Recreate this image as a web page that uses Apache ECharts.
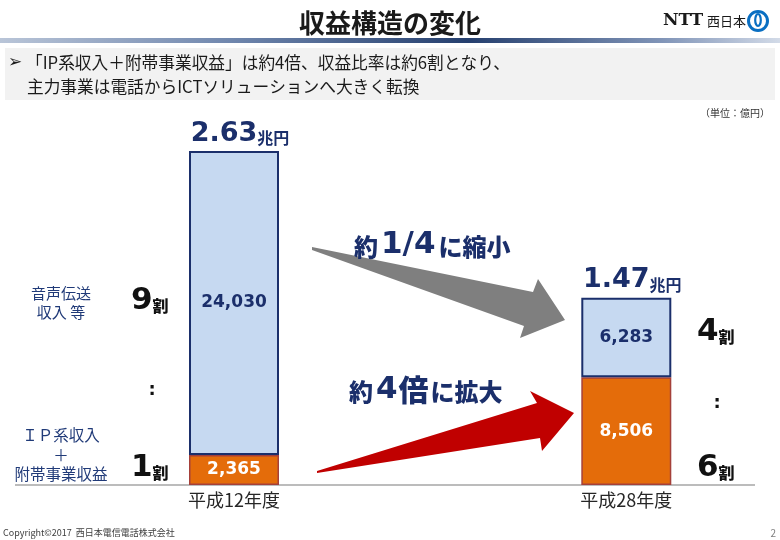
<!DOCTYPE html>
<html><head><meta charset="utf-8">
<script src="https://cdn.jsdelivr.net/npm/echarts@6/dist/echarts.min.js"></script>
<style>html,body{margin:0;padding:0;background:#fff}#c{width:780px;height:540px}</style>
</head><body><div id="c"></div>
<script>
const categories = ['平成12年度', '平成28年度'];
const ipValues = [2365, 8506];
const voiceValues = [24030, 6283];
const totalLabels = ['2.63', '1.47'];
const totalUnit = '兆円';

const JP = '"Noto Sans CJK JP", "Noto Sans", sans-serif';
const NUM = '"DejaVu Sans", Verdana, sans-serif';
const NAVY = '#1b2f6b';
const fmt = v => v.toLocaleString('en-US');

const chart = echarts.init(document.getElementById('c'), null, {renderer: 'canvas'});
chart.setOption({
  backgroundColor: '#ffffff',
  animation: false,
  title: {
    text: '収益構造の変化', left: 'center', top: 5,
    textStyle: {fontFamily: JP, fontSize: 26, fontWeight: 'bold', color: '#1a1a1a'}
  },
  grid: {left: 37.85, top: 105.4, width: 784.6, height: 379.6, outerBoundsMode: 'none', containLabel: false},
  xAxis: {
    type: 'category', data: categories,
    axisLine: {show: false}, axisTick: {show: false},
    axisLabel: {margin: 6, fontFamily: JP, fontSize: 18, color: '#262626'}
  },
  yAxis: {type: 'value', min: 0, max: 30000, show: false, splitLine: {show: false}},
  series: [
    {
      name: 'IP', type: 'bar', stack: 't', barWidth: 90, data: ipValues, z: 3,
      itemStyle: {color: '#e46c0a', borderColor: '#a5403a', borderWidth: 1.5},
      label: {show: true, position: 'inside', formatter: p => fmt(p.value),
        fontFamily: NUM, fontWeight: 'bold', fontSize: 17, color: '#ffffff'}
    },
    {
      name: 'Voice', type: 'bar', stack: 't', barWidth: 90, data: voiceValues, z: 3,
      itemStyle: {color: '#c6d9f1', borderColor: NAVY, borderWidth: 2},
      label: {show: true, position: 'inside', formatter: p => fmt(p.value),
        fontFamily: NUM, fontWeight: 'bold', fontSize: 17, color: NAVY}
    },
    {
      name: 'Total', type: 'bar', stack: 't', barWidth: 90, data: [0, 0], z: 4, silent: true,
      itemStyle: {color: 'transparent'},
      label: {show: true, position: 'top', distance: 4,
        formatter: p => '{a|' + totalLabels[p.dataIndex] + '}{b|' + totalUnit + '}',
        offset: [6, 0],
        rich: {
          a: {fontFamily: NUM, fontWeight: 'bold', fontSize: 27, color: NAVY, verticalAlign: 'bottom', lineHeight: 30},
          b: {fontFamily: JP, fontWeight: 'bold', fontSize: 16, color: NAVY, verticalAlign: 'bottom', lineHeight: 24, padding: [0,0,1,0]}
        }}
    }
  ],
  graphic: [
    // header rule
    {type: 'rect', z: 1, shape: {x: 0, y: 38, width: 780, height: 5},
      style: {fill: new echarts.graphic.LinearGradient(0, 0, 1, 0, [
        {offset: 0, color: '#b9c5d8'}, {offset: 0.3, color: '#6f86ad'},
        {offset: 0.6, color: '#253f6e'}, {offset: 0.85, color: '#8195b8'}, {offset: 1, color: '#d3dbe8'}])}},
    // bullet box
    {type: 'rect', z: 1, shape: {x: 5, y: 48, width: 770, height: 52}, style: {fill: '#f2f2f2'}},
    {type: 'text', z: 2, style: {x: 8, y: 63, text: '➢', font: '17px "DejaVu Sans", sans-serif', fill: '#1a1a1a', verticalAlign: 'middle'}},
    {type: 'text', z: 2, style: {x: 26, y: 63, text: '「IP系収入＋附帯事業収益」は約4倍、収益比率は約6割となり、', font: '16.7px ' + JP, fill: '#1a1a1a', verticalAlign: 'middle'}},
    {type: 'text', z: 2, style: {x: 27, y: 87, text: '主力事業は電話からICTソリューションへ大きく転換', font: '16.7px ' + JP, fill: '#1a1a1a', verticalAlign: 'middle'}},
    // logo
    {type: 'text', z: 2, style: {x: 663, y: 21, text: 'NTT', font: 'bold 17px "DejaVu Serif", serif', fill: '#1a1a1a', verticalAlign: 'middle'}},
    {type: 'text', z: 2, style: {x: 707, y: 21, text: '西日本', font: '13px ' + JP, fill: '#1a1a1a', verticalAlign: 'middle'}},
    {type: 'circle', z: 2, shape: {cx: 758, cy: 21, r: 9.5}, style: {fill: 'none', stroke: '#0a6fc2', lineWidth: 3}},
    {type: 'ellipse', z: 2, shape: {cx: 758, cy: 20, rx: 2.8, ry: 6}, style: {fill: 'none', stroke: '#0a6fc2', lineWidth: 2.2}},
    // unit
    {type: 'text', z: 2, style: {x: 770, y: 113, text: '（単位：億円）', font: '10px ' + JP, fill: '#333', align: 'right', verticalAlign: 'middle'}},
    // baseline
    {type: 'line', z: 1, shape: {x1: 15, y1: 485, x2: 755, y2: 485}, style: {stroke: '#a6a6a6', lineWidth: 1.5}},
    // left annotations
    {type: 'text', z: 2, style: {x: 61, y: 303, text: '音声伝送\n収入 等', font: '15px ' + JP, fill: '#203a78', align: 'center', verticalAlign: 'middle', lineHeight: 19}},
    {type: 'text', z: 2, style: {x: 61, y: 455, text: 'ＩＰ系収入\n＋\n附帯事業収益', font: '15.5px ' + JP, fill: '#203a78', align: 'center', verticalAlign: 'middle', lineHeight: 19.5}},
    {type: 'text', z: 2, style: {x: 131, y: 316, text: '{n|9}{u|割}', align: 'left', verticalAlign: 'bottom',
      rich: {n: {font: 'bold 31px ' + NUM, fill: '#111', verticalAlign: 'bottom'}, u: {font: '900 16px ' + JP, fill: '#111', verticalAlign: 'bottom', padding: [0,0,2,0]}}}},
    {type: 'text', z: 2, style: {x: 131, y: 483, text: '{n|1}{u|割}', align: 'left', verticalAlign: 'bottom',
      rich: {n: {font: 'bold 31px ' + NUM, fill: '#111', verticalAlign: 'bottom'}, u: {font: '900 16px ' + JP, fill: '#111', verticalAlign: 'bottom', padding: [0,0,2,0]}}}},
    {type: 'text', z: 2, style: {x: 152, y: 390, text: ':', font: 'bold 18px ' + NUM, fill: '#111', align: 'center', verticalAlign: 'middle'}},
    // right annotations
    {type: 'text', z: 2, style: {x: 697, y: 347, text: '{n|4}{u|割}', align: 'left', verticalAlign: 'bottom',
      rich: {n: {font: 'bold 31px ' + NUM, fill: '#111', verticalAlign: 'bottom'}, u: {font: '900 16px ' + JP, fill: '#111', verticalAlign: 'bottom', padding: [0,0,2,0]}}}},
    {type: 'text', z: 2, style: {x: 697, y: 483, text: '{n|6}{u|割}', align: 'left', verticalAlign: 'bottom',
      rich: {n: {font: 'bold 31px ' + NUM, fill: '#111', verticalAlign: 'bottom'}, u: {font: '900 16px ' + JP, fill: '#111', verticalAlign: 'bottom', padding: [0,0,2,0]}}}},
    {type: 'text', z: 2, style: {x: 717, y: 403, text: ':', font: 'bold 18px ' + NUM, fill: '#111', align: 'center', verticalAlign: 'middle'}},
    // arrows
    {type: 'polygon', z: 2, shape: {points: [[312,247],[533,292],[538,279],[565,320],[520,338],[524,326],[312,250]]}, style: {fill: '#7f7f7f'}},
    {type: 'polygon', z: 2, shape: {points: [[317,471],[537,403],[530,391],[574,413],[542,451],[540,438],[317,473]]}, style: {fill: '#c00000'}},
    {type: 'text', z: 5, style: {x: 354, y: 260, text: '{a|約}{b|1/4}{a|に縮小}', align: 'left', verticalAlign: 'bottom',
      rich: {a: {font: '900 24px ' + JP, fill: NAVY, verticalAlign: 'bottom', padding: [0,0,1,0]}, b: {font: 'bold 31px ' + NUM, fill: NAVY, verticalAlign: 'bottom', padding: [0,3,0,3]}}}},
    {type: 'text', z: 5, style: {x: 349, y: 405, text: '{a|約}{b|4}{c|倍}{a|に拡大}', align: 'left', verticalAlign: 'bottom',
      rich: {a: {font: '900 24px ' + JP, fill: NAVY, verticalAlign: 'bottom', padding: [0,0,1,0]}, b: {font: 'bold 31px ' + NUM, fill: NAVY, verticalAlign: 'bottom', padding: [0,1,0,3]}, c: {font: '900 30px ' + JP, fill: NAVY, verticalAlign: 'bottom', padding: [0,2,0,0]}}}},
    // footer
    {type: 'text', z: 2, style: {x: 3, y: 533, text: 'Copyright©2017  西日本電信電話株式会社', font: '9px ' + JP, fill: '#404040', verticalAlign: 'middle'}},
    {type: 'text', z: 2, style: {x: 776, y: 533, text: '2', font: '10px ' + JP, fill: '#7f7f7f', align: 'right', verticalAlign: 'middle'}}
  ]
});
</script></body></html>
